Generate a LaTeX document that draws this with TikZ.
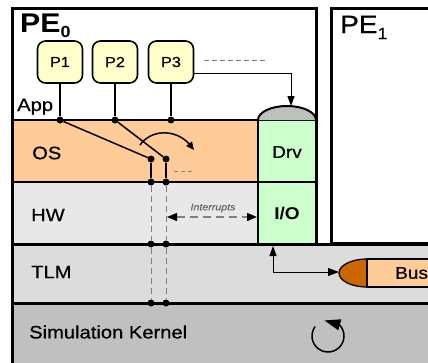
\documentclass[tikz,border=0pt]{standalone}
\usepackage{fontspec}
\setmainfont{Liberation Sans}[FakeStretch=1.12, UprightFeatures={FakeBold=0.5}, ItalicFeatures={FakeBold=0.3}]
\usetikzlibrary{arrows.meta,bending}
\definecolor{osfill}{HTML}{FFCC99}
\definecolor{hwfill}{HTML}{E8E8E8}
\definecolor{tlmfill}{HTML}{DCDCDC}
\definecolor{kernfill}{HTML}{C0C0C0}
\definecolor{drvfill}{HTML}{CCFFCC}
\definecolor{procfill}{HTML}{FFFFCC}
\definecolor{capfill}{HTML}{BFBFBF}
\definecolor{busdark}{HTML}{CC6600}
\definecolor{dashgray}{HTML}{808080}
\tikzset{
  border/.style={draw=black, line width=3pt},
  band/.style={draw=black, line width=2pt},
  proc/.style={draw=black, line width=1.6pt, fill=procfill, rounded corners=8pt,
    minimum width=45pt, minimum height=42pt, inner sep=0pt, font=\fontsize{14.5}{14.5}\selectfont},
  lbl/.style={anchor=west, inner sep=0pt, font=\fontsize{18}{18}\selectfont},
  dot/.style={circle, fill=black, inner sep=0pt, minimum size=7pt},
  wire/.style={draw=black, line width=1.5pt},
  dwire/.style={draw=dashgray, line width=1pt, dash pattern=on 6pt off 4pt},
  thinarrow/.style={draw=black, line width=1pt},
}
\begin{document}
\begin{tikzpicture}[x=1pt,y=-1pt]
\useasboundingbox (0,0) rectangle (428,362);
\clip (0,0) rectangle (428,362);
\fill[white] (0,0) rectangle (428,362);
% bands
\fill[kernfill] (12,303) rectangle (440,370);
\fill[tlmfill] (12,244) rectangle (440,303);
\fill[white] (12,8) rectangle (316,244);
\fill[osfill] (12,120) rectangle (258,182);
\fill[hwfill] (12,182) rectangle (258,244);
\fill[drvfill] (258,120) rectangle (316,244);
\draw[band] (12,120) -- (316,120);
\draw[band] (12,182) -- (316,182);
\draw[band] (258,120) -- (258,244);
\draw[border] (12,8) rectangle (316,244);
\draw[border, fill=white] (331,8) rectangle (440,243);
\draw[border] (12,244) -- (440,244);
\draw[border] (12,303) -- (440,303);
\draw[border] (12,8) -- (12,370);
% driver cap
\draw[band, fill=capfill] (258,120) arc[start angle=180, end angle=360, x radius=29, y radius=14];
\coordinate (captop) at (291,106);
% labels
\node[anchor=base west, inner sep=0pt, font=\bfseries\fontsize{27}{27}\selectfont] (pe0) at (20,32) {PE\raisebox{-5pt}{\fontsize{16}{16}\selectfont 0}};
\node[anchor=base west, inner sep=0pt, font=\fontsize{25}{25}\selectfont] (pe1) at (340,33) {PE\raisebox{-6pt}{\fontsize{16}{16}\selectfont 1}};
\node[anchor=base west, inner sep=0pt, font=\fontsize{18}{18}\selectfont] (app) at (17,111) {App};
\node[lbl] (os) at (32,153) {OS};
\node[lbl] (hw) at (31,215) {HW};
\node[lbl] (tlm) at (31,272) {TLM};
\node[lbl] (sk) at (29,332) {Simulation Kernel};
\node[inner sep=0pt, font=\fontsize{17}{17}\selectfont] (drv) at (287,152) {Drv};
\node[inner sep=0pt, font=\bfseries\fontsize{17}{17}\selectfont] (io) at (287,214) {I/O};
% processes
\node[proc] (p1) at (60,62) {P1};
\node[proc] (p2) at (115,62) {P2};
\node[proc] (p3) at (171,62) {P3};
\node[dot] (d1) at (60,120) {};
\node[dot] (d2) at (115,120) {};
\node[dot] (d3) at (171,120) {};
\draw[wire] (p1) -- (d1);
\draw[wire] (p2) -- (d2);
\draw[wire] (p3) -- (d3);
% switch
\node[dot] (s1) at (151,159) {};
\node[dot] (s2) at (166,159) {};
\node[dot] (a1) at (151,182) {};
\node[dot] (a2) at (166,182) {};
\node[dot] (b1) at (151,244) {};
\node[dot] (b2) at (166,244) {};
\node[dot] (c1) at (151,303) {};
\node[dot] (c2) at (166,303) {};
\draw[wire] (d1) -- (s1);
\draw[wire] (d2) -- (s2);
\draw[wire] (s1) -- (a1);
\draw[wire] (s2) -- (a2);
\draw[dwire] (a1) -- (b1);
\draw[dwire] (a2) -- (b2);
\draw[dwire] (b1) -- (c1);
\draw[dwire] (b2) -- (c2);
\coordinate (sw0) at (140,145);
\coordinate (sw1) at (194,150);
\draw[wire, -{Triangle[length=8pt,width=7pt]}] (sw0) .. controls (152,128) and (180,128) .. (sw1);
\coordinate (more0) at (174,171);
\coordinate (more1) at (193,171);
\draw[draw=dashgray, line width=1pt, dash pattern=on 4pt off 3pt] (more0) -- (more1);
% P3 links
\coordinate (p3more) at (204,60);
\coordinate (p3more1) at (267,60);
\draw[draw=dashgray, line width=1pt, dash pattern=on 5pt off 3pt] (p3more) -- (p3more1);
\coordinate (p3e) at (193,73);
\draw[thinarrow, -{Triangle[length=10pt,width=7pt]}] (p3e) -- (291,73) -- (captop);
% interrupts
\coordinate (int0) at (167,217);
\coordinate (int1) at (257,217);
\draw[draw=dashgray, line width=1.2pt, dash pattern=on 8pt off 5pt,
  {Triangle[length=10pt,width=8pt,color=black]}-{Triangle[length=10pt,width=8pt,color=black]}] (int0) -- (int1);
\node[inner sep=0pt, font=\itshape\fontsize{9.5}{10}\selectfont, text=dashgray!80!black] (intl) at (213,208) {Interrupts};
% bus
\draw[line width=1.3pt, fill=busdark] (367,259) arc[start angle=270, end angle=90, x radius=28, y radius=14] -- cycle;
\draw[line width=1.3pt, fill=osfill] (367,259) rectangle (440,287);
\node[anchor=west, inner sep=0pt, font=\fontsize{17}{17}\selectfont] (bus) at (395,273) {Bus};
\coordinate (iob) at (273,246);
\coordinate (busl) at (339,272);
\draw[thinarrow, {Triangle[length=10pt,width=7pt]}-{Triangle[length=11pt,width=8pt]}] (iob) -- (273,272) -- (busl);
% kernel loop
\coordinate (kc) at (328,336);
\draw[line width=1.5pt, -{Triangle[length=16pt,width=11pt,flex]}] (kc) ++(216:16) arc[start angle=216, end angle=-103, radius=16];
\end{tikzpicture}
\end{document}
